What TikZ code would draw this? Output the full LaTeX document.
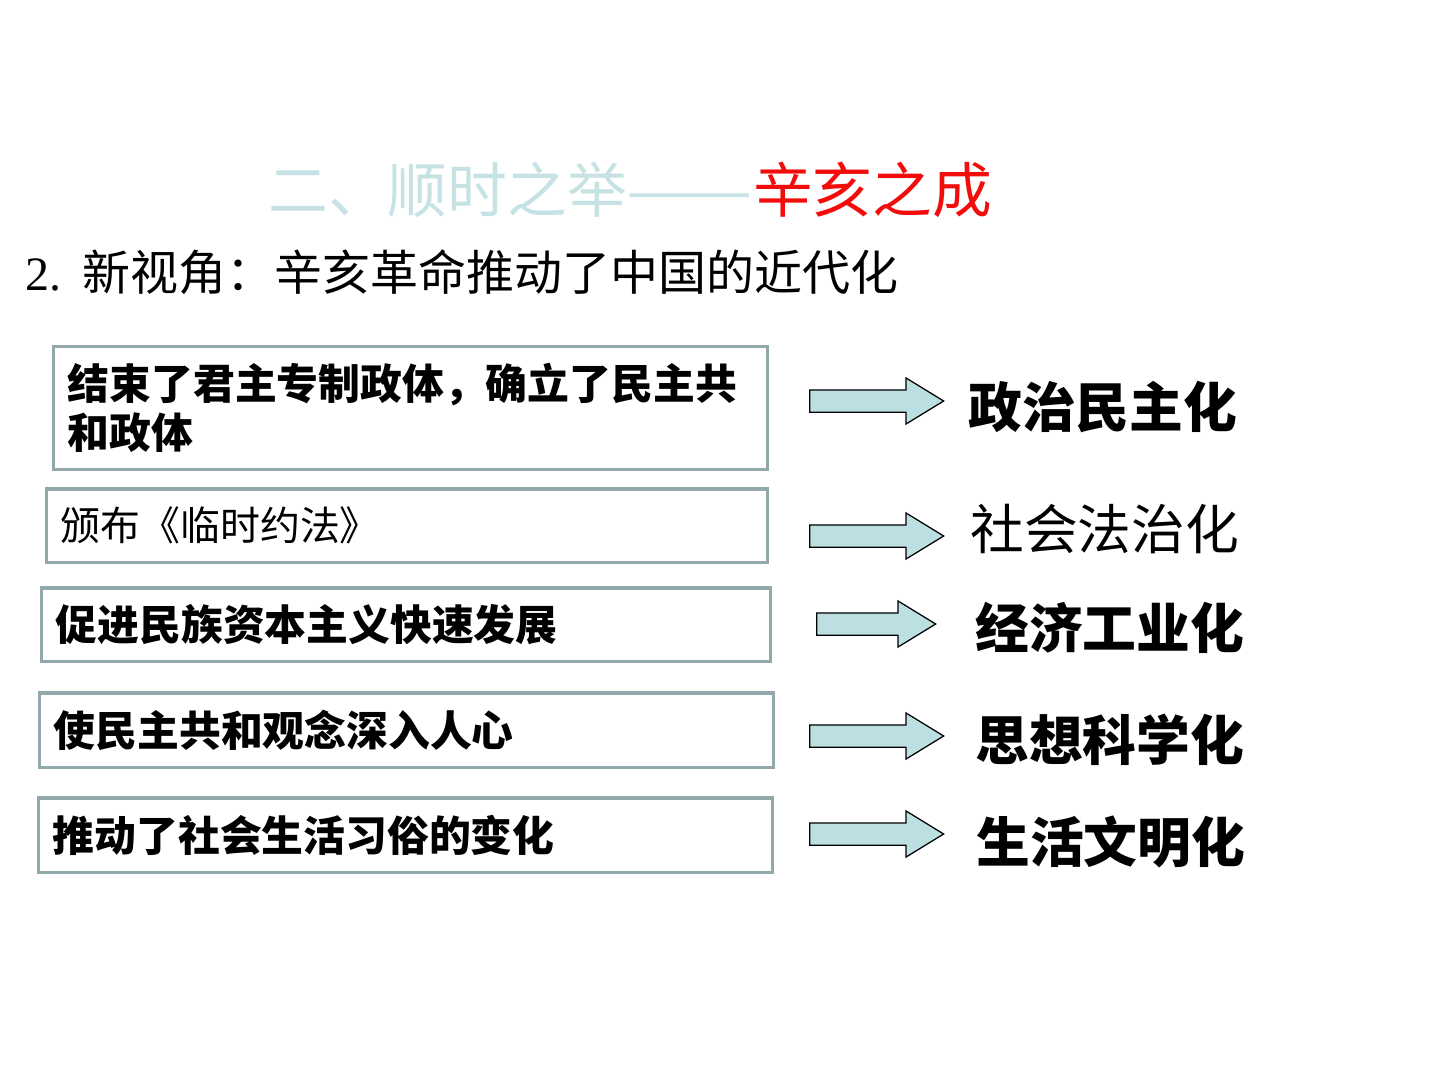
\documentclass[tikz,border=0pt]{standalone}
\usepackage{fontspec}
\setmainfont{Liberation Serif}
\newfontfamily\cjk{Noto Sans CJK SC}
\usetikzlibrary{shapes.arrows}
\definecolor{titlecyan}{HTML}{C6E2E4}
\definecolor{titlered}{HTML}{F20D0D}
\definecolor{boxgray}{HTML}{93A8AA}
\definecolor{arrowfill}{HTML}{BCDFE2}
\tikzset{
  causebox/.style={draw=boxgray, line width=0.7mm, inner xsep=2.8mm, inner ysep=0pt,
    align=left, font=\cjk\bfseries\fontsize{23.8}{27.8}\selectfont},
  fatarrow/.style={single arrow, draw=black, line width=0.25mm, fill=arrowfill,
    anchor=tail, inner xsep=0pt, inner ysep=2.1mm, single arrow head extend=2.4mm,
    single arrow tip angle=63, minimum height=#1},
  resultlabel/.style={anchor=west, inner sep=0pt, font=\cjk\bfseries\fontsize{30.6}{36}\selectfont},
}
\begin{document}
\begin{tikzpicture}[x=0.2mm,y=-0.2mm]
\useasboundingbox (0,0) rectangle (1440,1080);
% headings
\node[anchor=west, inner sep=0pt, text=titlecyan, font=\cjk\fontsize{34}{40}\selectfont] (title) at (268,190)
  {二、顺时之举\scalebox{1.26}[1]{——}{\color{titlered}辛亥之成}};
\node[anchor=west, inner sep=0pt, font=\fontsize{27.3}{32}\selectfont] (subtitle) at (25,272)
  {2.\hspace{0.45em}{\cjk 新视角：辛亥革命推动了中国的近代化}};
% left boxes
\node[causebox, text width=137.1mm, minimum height=24.5mm] (cause1) at (410.5,408)
  {结束了君主专制政体，确立了民主共\\和政体};
\node[causebox, text width=138.5mm, minimum height=14.7mm,
  font=\cjk\mdseries\fontsize{22.7}{26}\selectfont] (cause2) at (407,525.5) {颁布《临时约法》};
\node[causebox, text width=140.1mm, minimum height=14.7mm] (cause3) at (406,624.5) {促进民族资本主义快速发展};
\node[causebox, text width=141.1mm, minimum height=14.9mm] (cause4) at (406.5,730) {使民主共和观念深入人心};
\node[causebox, text width=141.1mm, minimum height=14.9mm] (cause5) at (405.5,835) {推动了社会生活习俗的变化};
% arrows
\node[fatarrow=26.8mm] (arr1) at (809,401) {};
\node[fatarrow=26.8mm] (arr2) at (809,536) {};
\node[fatarrow=23.8mm] (arr3) at (816,624) {};
\node[fatarrow=26.8mm] (arr4) at (809,736) {};
\node[fatarrow=26.8mm] (arr5) at (809,834) {};
% results
\node[resultlabel] (res1) at (968,407) {政治民主化};
\node[resultlabel, font=\cjk\mdseries\fontsize{30.6}{36}\selectfont] (res2) at (970,529) {社会法治化};
\node[resultlabel] (res3) at (975,628) {经济工业化};
\node[resultlabel] (res4) at (975,740) {思想科学化};
\node[resultlabel] (res5) at (976,842) {生活文明化};
\end{tikzpicture}
\end{document}
